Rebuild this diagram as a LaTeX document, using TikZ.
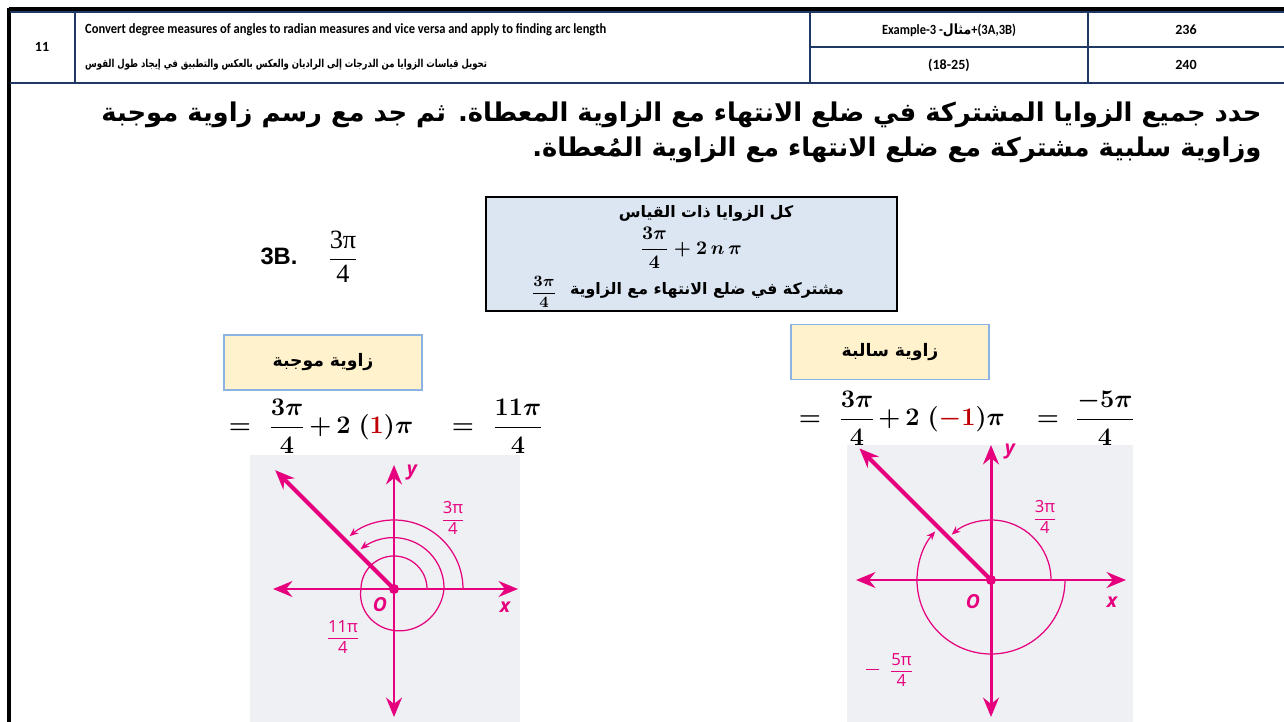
\documentclass[tikz,border=0pt]{standalone}
\usepackage{fontspec}
\usepackage{amsmath}
\usepackage{graphicx}
\usetikzlibrary{arrows.meta}
\TeXXeTstate=1
\newfontfamily\arabicfont[Script=Arabic]{DejaVu Sans}
\newfontfamily\headfont{Carlito}
\newfontfamily\labfont{Open Sans}
\newfontfamily\boldsans{Liberation Sans}
\newfontfamily\serfont{Liberation Serif}
\definecolor{axispink}{HTML}{E6007E}
\definecolor{navyline}{HTML}{1F3864}
\definecolor{boxblue}{HTML}{DCE6F2}
\definecolor{boxyellow}{HTML}{FFF2CC}
\definecolor{edgeblue}{HTML}{8DB3E2}
\definecolor{panelgray}{HTML}{EEF0F3}
\definecolor{onered}{HTML}{C00000}
\newcommand{\pifrac}[2]{$\displaystyle\frac{\hbox{#1}}{\hbox{#2}}$}
\begin{document}
\begin{tikzpicture}[x=0.02cm, y=-0.02cm,
  gridline/.style={navyline, line width=1.1pt},
  headtext/.style={font=\headfont\bfseries\fontsize{8}{10}\selectfont},
  arabichead/.style={font=\arabicfont\bfseries\fontsize{6.2}{8}\selectfont},
  titletext/.style={font=\arabicfont\bfseries\fontsize{14.7}{17}\selectfont, anchor=east, inner sep=0},
  boxtext/.style={font=\arabicfont\bfseries\fontsize{9}{11}\selectfont, inner sep=0},
  labelbox/.style={draw=edgeblue, fill=boxyellow, line width=0.9pt, minimum width=3.96cm, minimum height=1.1cm, font=\arabicfont\bfseries\fontsize{9.8}{12}\selectfont},
  fml/.style={font=\fontsize{13.5}{16}\selectfont\boldmath, inner sep=0},
  axis/.style={axispink, line width=1.7pt, {Stealth[length=11pt,width=9pt]}-{Stealth[length=11pt,width=9pt]}},
  termray/.style={axispink, line width=2.4pt, -{Stealth[length=11pt,width=9pt]}},
  anglearc/.style={axispink, line width=0.7pt, -{Stealth[length=5pt,width=4pt]}},
  pinklabel/.style={axispink, font=\labfont\fontsize{9.5}{11}\selectfont, inner sep=0},
  axislabel/.style={axispink, font=\labfont\bfseries\itshape\fontsize{11}{13}\selectfont, inner sep=0}]
\fill[white] (0,0) rectangle (1284,722);
\useasboundingbox (0,0) rectangle (1284,722);

\draw[black, line width=2pt] (9,9) -- (1284,9);
\draw[black, line width=2pt] (9,8) -- (9,722);
\draw[gridline] (10,12) -- (1284,12);
\draw[gridline] (10,83) -- (1284,83);
\draw[gridline] (810,47) -- (1284,47);
\draw[gridline] (75,12) -- (75,83);
\draw[gridline] (810,12) -- (810,83);
\draw[gridline] (1088,12) -- (1088,83);
\node[headtext] (unitno) at (42,47) {11};
\node[headtext, anchor=west] (entitle) at (79,30) {\scalebox{0.89}[1]{Convert degree measures of angles to radian measures and vice versa and apply to finding arc length}};
\node[arabichead, anchor=west] (artitle) at (79,65) {\scalebox{0.78}[1]{\beginR تحويل قياسات الزوايا من الدرجات إلى الراديان والعكس بالعكس والتطبيق في إيجاد طول القوس\endR}};
\node[headtext] (exref) at (949,30) {\scalebox{0.89}[1]{Example-3 -{\arabicfont\beginR مثال\endR}+(3A,3B)}};
\node[headtext] (exrange) at (949,65) {(18-25)};
\node[headtext] (pgone) at (1186,30) {236};
\node[headtext] (pgtwo) at (1186,65) {240};

\node[titletext] (tline1) at (1262,115) {\beginR حدد جميع الزوايا المشتركة في ضلع الانتهاء مع الزاوية المعطاة. ثم جد مع رسم زاوية موجبة\endR};
\node[titletext] (tline2) at (1262,150) {\beginR وزاوية سلبية مشتركة مع ضلع الانتهاء مع الزاوية المُعطاة.\endR};

\node[font=\boldsans\bfseries\fontsize{13.5}{16}\selectfont] (exlab) at (279,256) {3B.};
\node[font=\serfont\fontsize{15}{18}\selectfont] (exval) at (343,257) {\pifrac{3π}{4}};

\draw[black, fill=boxblue, line width=0.9pt] (486,197) rectangle (897,311);
\node[boxtext] (alltxt) at (706,213) {\beginR كل الزوايا ذات القياس\endR};
\node[font=\fontsize{11}{13}\selectfont\boldmath] (allfml) at (691,248) {$\displaystyle\frac{3\pi}{4}+2\,n\,\pi$};
\node[boxtext] (cotxt) at (707,290) {\beginR مشتركة في ضلع الانتهاء مع الزاوية\endR};
\node[font=\fontsize{9}{11}\selectfont\boldmath] (cofrac) at (544,292) {$\displaystyle\frac{3\pi}{4}$};

\node[labelbox] (posbox) at (323,362.5) {\beginR زاوية موجبة\endR};
\node[labelbox] (negbox) at (890,352) {\beginR زاوية سالبة\endR};

\node[fml, anchor=base] (leqa) at (240,434) {$=$};
\node[fml, anchor=base] (lfra) at (287,434) {$\displaystyle\frac{3\pi}{4}$};
\node[fml, anchor=base west] (lsum) at (309,434) {$+\,2\;(\textcolor{onered}{1})\pi$};
\node[fml, anchor=base] (leqb) at (463,434) {$=$};
\node[fml, anchor=base] (lfrb) at (518,434) {$\displaystyle\frac{11\pi}{4}$};

\node[fml, anchor=base] (reqa) at (810,426) {$=$};
\node[fml, anchor=base] (rfra) at (857,426) {$\displaystyle\frac{3\pi}{4}$};
\node[fml, anchor=base west] (rsum) at (878,426) {$+\,2\;(\textcolor{onered}{-1})\pi$};
\node[fml, anchor=base] (reqb) at (1048,426) {$=$};
\node[fml, anchor=base] (rfrb) at (1105,426) {$\displaystyle\frac{-5\pi}{4}$};

\fill[panelgray] (250,455) rectangle (520,722);
\begin{scope}[shift={(394,589)}, y=0.02cm]
  \coordinate (lO) at (0,0);
  \coordinate (lxl) at (-121,0);
  \coordinate (lxr) at (124,0);
  \coordinate (lyt) at (0,124);
  \coordinate (lyb) at (0,-128);
  \coordinate (lT) at (135:168);
  \draw[anglearc] (lO) ++(0:69) arc[start angle=0, end angle=130, radius=69];
  \draw[anglearc] plot[domain=0:490, samples=120, smooth] (\x:{33+17*min(max(\x-180,0),180)/180+2*max(\x-360,0)/130});
  \draw[axis] (lxl) -- (lxr);
  \draw[axis] (lyb) -- (lyt);
  \draw[termray] (lO) -- (lT);
  \fill[axispink] (lO) circle (5);
\end{scope}
\node[axislabel] (lolab) at (380,605) {O};
\node[axislabel] (lxlab) at (505,607) {x};
\node[axislabel] (lylab) at (412,473) {y};
\node[pinklabel] (lthree) at (453,518) {\pifrac{3π}{4}};
\node[pinklabel] (leleven) at (343,637) {\pifrac{11π}{4}};

\fill[panelgray] (847,445) rectangle (1133,722);
\begin{scope}[shift={(991,580)}, y=0.02cm]
  \coordinate (rO) at (0,0);
  \coordinate (rxl) at (-135,0);
  \coordinate (rxr) at (135,0);
  \coordinate (ryt) at (0,135);
  \coordinate (ryb) at (0,-137);
  \coordinate (rT) at (135:186);
  \draw[anglearc] (rO) ++(0:60) arc[start angle=0, end angle=131, radius=60];
  \draw[anglearc] (rO) ++(0:74) arc[start angle=0, end angle=-221, radius=74];
  \draw[axis] (rxl) -- (rxr);
  \draw[axis] (ryb) -- (ryt);
  \draw[termray] (rO) -- (rT);
  \fill[axispink] (rO) circle (5);
\end{scope}
\node[axislabel] (rolab) at (973,602) {O};
\node[axislabel] (rxlab) at (1112,602) {x};
\node[axislabel] (rylab) at (1010,452) {y};
\node[pinklabel] (rthree) at (1045,517) {\pifrac{3π}{4}};
\node[pinklabel, anchor=west] (rfive) at (866,670) {\rule[3pt]{7pt}{0.8pt}\hspace{6pt}\pifrac{5π}{4}};
\end{tikzpicture}
\end{document}
